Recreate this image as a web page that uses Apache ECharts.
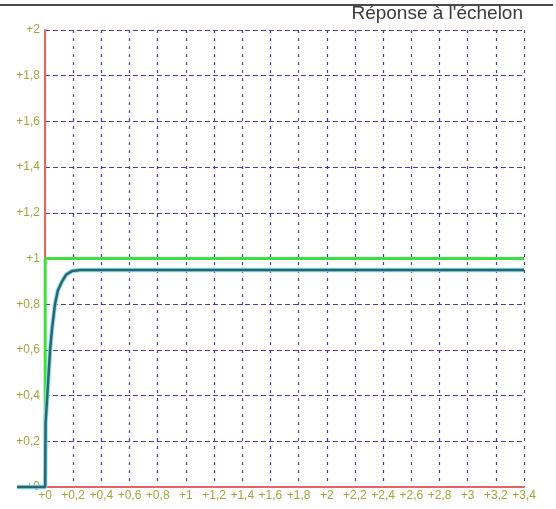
<!DOCTYPE html>
<html>
<head>
<meta charset="utf-8">
<script src="https://cdn.jsdelivr.net/npm/echarts@6/dist/echarts.min.js"></script>
<style>html,body{margin:0;padding:0;background:#fff;}#c{width:556px;height:509px;}</style>
</head>
<body>
<div id="c"></div>
<script>
var titleText = "Réponse à l'échelon";
var stepX = [0, 0, 3.4];
var stepY = [0, 1, 1];
var respX = [-0.2, 0, 0.003, 0.02, 0.035, 0.05, 0.07, 0.09, 0.12, 0.15, 0.19, 0.25, 3.4];
var respY = [0, 0, 0.28, 0.45, 0.6, 0.7, 0.8, 0.86, 0.9, 0.93, 0.945, 0.95, 0.95];

function pairs(xs, ys) { return xs.map(function (x, i) { return [x, ys[i]]; }); }
function fmt(v) { return '+' + String(+(+v).toFixed(1)).replace('.', ','); }

var vColors = [];
for (var i = 0; i < 18; i++) vColors.push(i % 2 ? '#4a4a7a' : '#3a3aa0');

var chart = echarts.init(document.getElementById('c'));
chart.setOption({
  animation: false,
  backgroundColor: '#fff',
  grid: [
    { left: 45, right: 32, top: 30, bottom: 22, containLabel: false, outerBoundsMode: 'none' },
    { left: 17, right: 32, top: 30, bottom: 22, containLabel: false, outerBoundsMode: 'none' }
  ],
  xAxis: [{
    gridIndex: 0, type: 'value', min: 0, max: 3.4, interval: 0.2,
    axisLine: { lineStyle: { color: '#e86464', width: 2 } },
    axisTick: { show: false },
    axisLabel: { formatter: fmt, color: '#a3a33c', fontSize: 12, fontFamily: 'Arial, Liberation Sans', margin: 3, showMinLabel: true, showMaxLabel: true, hideOverlap: false },
    splitLine: { show: true, lineStyle: { color: vColors, type: [3, 5], width: 1.2 } }
  }, {
    gridIndex: 1, type: 'value', min: -0.2, max: 3.4, show: false
  }],
  yAxis: [{
    gridIndex: 0, type: 'value', min: 0, max: 2, interval: 0.2,
    axisLine: { show: true, lineStyle: { color: '#e86464', width: 2 } },
    axisTick: { show: false },
    axisLabel: { formatter: fmt, color: '#a3a33c', fontSize: 12, fontFamily: 'Arial, Liberation Sans', margin: 5 },
    splitLine: { show: true, lineStyle: { color: '#3c3cac', type: [5, 3], width: 1.2 } }
  }, {
    gridIndex: 1, type: 'value', min: 0, max: 2, show: false
  }],
  graphic: [
    { type: 'line', shape: { x1: 0, y1: 5, x2: 553, y2: 5 }, style: { stroke: '#4a4a4a', lineWidth: 2 }, z: 10 },
    { type: 'text', x: 523, y: 14, style: { text: titleText, fill: '#3a3a3a', font: '19px Arial, "Liberation Sans"', textAlign: 'right', textVerticalAlign: 'middle' } }
  ],
  series: [
    { type: 'line', xAxisIndex: 1, yAxisIndex: 1, data: pairs(stepX, stepY), showSymbol: false, clip: false, lineStyle: { color: '#3ee03e', width: 3 }, z: 3 },
    { type: 'line', xAxisIndex: 1, yAxisIndex: 1, data: pairs(respX, respY), showSymbol: false, clip: false, lineStyle: { color: '#8fdfee', width: 4.5 }, z: 4 },
    { type: 'line', xAxisIndex: 1, yAxisIndex: 1, data: pairs(respX, respY), showSymbol: false, clip: false, lineStyle: { color: '#2b6670', width: 2.5 }, z: 5 }
  ]
});
</script>
</body>
</html>
